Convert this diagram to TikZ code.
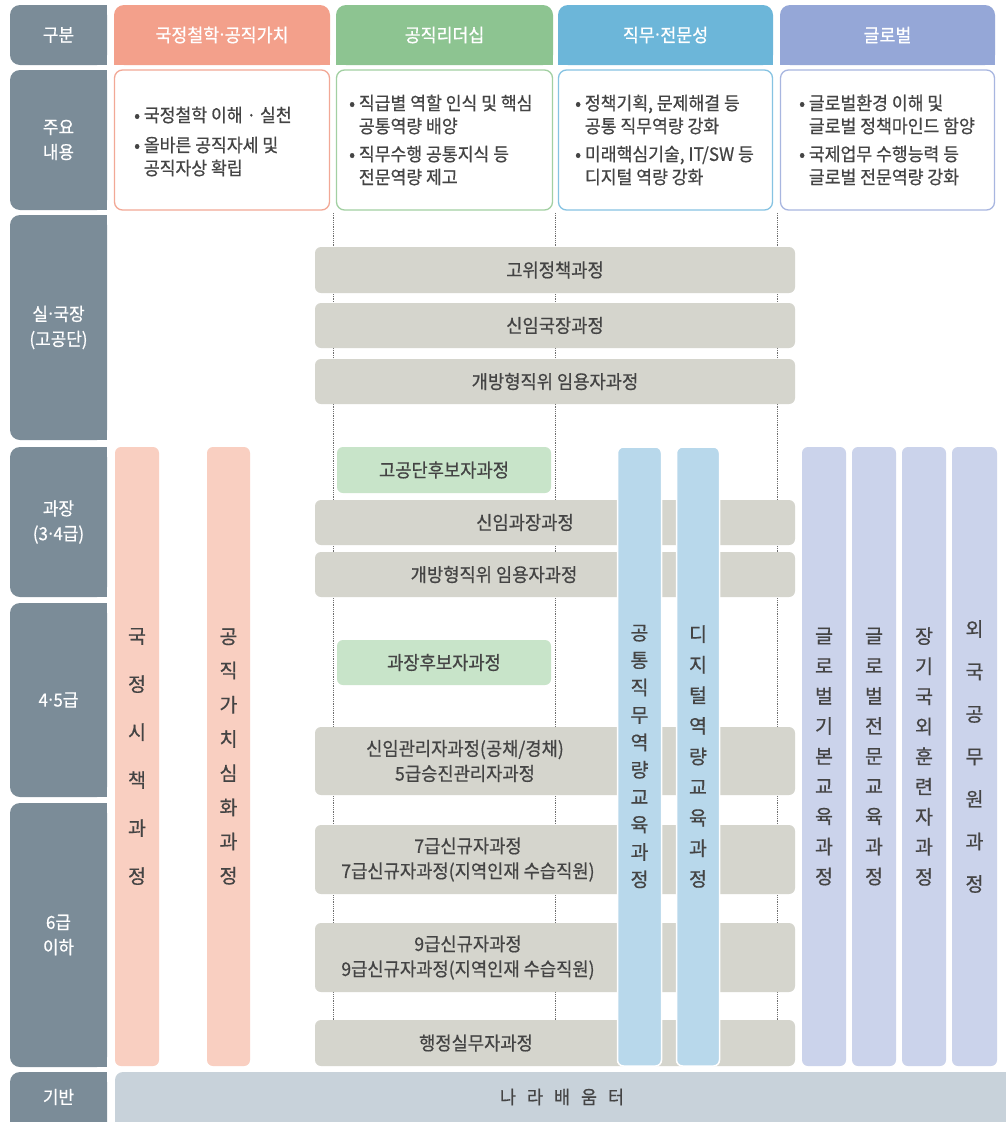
\documentclass[tikz,border=0pt]{standalone}
\usepackage{fontspec}
\newfontfamily\kr[FakeStretch=0.94,FakeBold=0.6]{Noto Sans CJK KR}
\newfontfamily\krv[FakeBold=0.6]{Noto Sans CJK KR}
\newfontfamily\dotf{Noto Sans}
\newcommand\mdt{{\dotf\kern0.02em·\kern0.02em}}
\definecolor{slate}{HTML}{7B8C98}
\definecolor{salH}{HTML}{F3A08B}
\definecolor{grnH}{HTML}{8DC491}
\definecolor{bluH}{HTML}{6CB6D9}
\definecolor{purH}{HTML}{95A7D7}
\definecolor{salB}{HTML}{F2A896}
\definecolor{grnB}{HTML}{A2D0A2}
\definecolor{bluB}{HTML}{86C3E2}
\definecolor{purB}{HTML}{A8B6E0}
\definecolor{grayBar}{HTML}{D5D5CD}
\definecolor{grnL}{HTML}{C8E4C9}
\definecolor{salL}{HTML}{F9CFC1}
\definecolor{bluL}{HTML}{B8D8EB}
\definecolor{purL}{HTML}{CBD3EB}
\definecolor{baseBar}{HTML}{C8D2DA}
\definecolor{txtc}{HTML}{444444}
\definecolor{guidec}{HTML}{6E6E6E}
\begin{document}
\begin{tikzpicture}[x=1pt,y=-1pt,
  lab/.style={fill=slate, rounded corners=10pt, text=white, font=\kr\fontsize{18}{25}\selectfont, align=center, minimum width=97pt, inner sep=0pt},
  hdr/.style={rounded corners=10pt, text=white, font=\kr\fontsize{18.4}{22}\selectfont, minimum height=60pt, inner sep=0pt},
  cbox/.style={line width=1.3pt, rounded corners=8pt, fill=white, minimum height=140pt, inner sep=0pt},
  ctxt/.style={text=txtc, font=\kr\fontsize{18.3}{23}\selectfont, align=left, inner sep=0pt, anchor=west},
  bar/.style={fill=grayBar, rounded corners=6pt, minimum width=480pt, inner sep=0pt},
  btxt/.style={text=txtc, font=\kr\fontsize{18.8}{25}\selectfont, align=center, inner sep=0pt},
  gbar/.style={fill=grnL, rounded corners=6pt, minimum width=214pt, inner sep=0pt, text=txtc, font=\kr\fontsize{18.8}{25}\selectfont},
  vbar/.style={rounded corners=6pt, inner sep=0pt, minimum height=619pt, text=txtc, align=center},
  guide/.style={draw=guidec, line width=0.9pt, dash pattern=on 1pt off 0.8pt}
]
\useasboundingbox[fill=white] (0,0) rectangle (1005,1122);

% ---------- left label column ----------
\fill[slate] (95,5) rectangle (107,65);
\node[lab, minimum height=60pt] (l0) at (58.5,35) {구분};
\fill[slate] (95,70) rectangle (107,210);
\node[lab, minimum height=140pt] (l1) at (58.5,140) {주요\\내용};
\fill[slate] (95,215) rectangle (107,440);
\node[lab, minimum height=225pt] (l2) at (58.5,327.5) {실\mdt 국장\\(고공단)};
\fill[slate] (95,447) rectangle (107,597);
\node[lab, minimum height=150pt] (l3) at (58.5,522) {과장\\(3\mdt 4급)};
\fill[slate] (95,603) rectangle (107,797);
\node[lab, minimum height=194pt] (l4) at (58.5,700) {4\mdt 5급};
\fill[slate] (95,803) rectangle (107,1067);
\node[lab, minimum height=264pt] (l5) at (58.5,935) {6급\\이하};
\fill[slate] (95,1072) rectangle (107,1122);
\node[lab, minimum height=60pt] (l6) at (58.5,1102) {};
\node[text=white, font=\kr\fontsize{18}{25}\selectfont] (l6t) at (58.5,1097) {기반};

% ---------- headers ----------
\fill[salH] (114,50) rectangle (330,65);
\node[hdr, fill=salH, minimum width=216pt] (h1) at (222,35) {국정철학\mdt 공직가치};
\fill[grnH] (336,50) rectangle (553,65);
\node[hdr, fill=grnH, minimum width=217pt] (h2) at (444.5,35) {공직리더십};
\fill[bluH] (558,50) rectangle (773,65);
\node[hdr, fill=bluH, minimum width=215pt] (h3) at (665.5,35) {직무\mdt 전문성};
\fill[purH] (780,50) rectangle (995,65);
\node[hdr, fill=purH, minimum width=215pt] (h4) at (887.5,35) {글로벌};

% ---------- content boxes ----------
\node[cbox, draw=salB, minimum width=215pt] (c1) at (222,140) {};
\node[cbox, draw=grnB, minimum width=216pt] (c2) at (444.5,140) {};
\node[cbox, draw=bluB, minimum width=214pt] (c3) at (665.5,140) {};
\node[cbox, draw=purB, minimum width=214pt] (c4) at (887.5,140) {};
\node[ctxt] (c1t) at (134,141.5) {• 국정철학 이해 · 실천\\[7pt]• 올바른 공직자세 및\\\hphantom{• }공직자상 확립};
\node[ctxt] (c2t) at (349,140) {• 직급별 역할 인식 및 핵심\\\hphantom{• }공통역량 배양\\[5pt]• 직무수행 공통지식 등\\\hphantom{• }전문역량 제고};
\node[ctxt] (c3t) at (575,140) {• 정책기획, 문제해결 등\\\hphantom{• }공통 직무역량 강화\\[5pt]• 미래핵심기술, IT/SW 등\\\hphantom{• }디지털 역량 강화};
\node[ctxt] (c4t) at (799,140) {• 글로벌환경 이해 및\\\hphantom{• }글로벌 정책마인드 함양\\[5pt]• 국제업무 수행능력 등\\\hphantom{• }글로벌 전문역량 강화};

% ---------- guide lines ----------
\coordinate (d1t) at (333,213); \coordinate (d1b) at (333,1020);
\coordinate (d2t) at (555,213); \coordinate (d2b) at (555,1020);
\coordinate (d3t) at (777,213); \coordinate (d3b) at (777,1020);
\draw[guide] (d1t) -- (d1b);
\draw[guide] (d2t) -- (d2b);
\draw[guide] (d3t) -- (d3b);

% ---------- gray course bars ----------
\node[bar, minimum height=46pt, label={[btxt]center:고위정책과정}] (g1) at (555,270) {};
\node[bar, minimum height=45pt, label={[btxt]center:신임국장과정}] (g2) at (555,325.5) {};
\node[bar, minimum height=45pt, label={[btxt]center:개방형직위 임용자과정}] (g3) at (555,381.5) {};
\node[bar, minimum height=45pt, label={[btxt,xshift=-30pt]center:신임과장과정}] (g4) at (555,522.5) {};
\node[bar, minimum height=45pt, label={[btxt,xshift=-61pt]center:개방형직위 임용자과정}] (g5) at (555,574.5) {};
\node[bar, minimum height=68pt, label={[btxt,xshift=-90pt]center:신임관리자과정(공채/경채)\\5급승진관리자과정}] (g6) at (555,761) {};
\node[bar, minimum height=69pt, label={[btxt,xshift=-87pt]center:7급신규자과정\\7급신규자과정(지역인재 수습직원)}] (g7) at (555,859.5) {};
\node[bar, minimum height=69pt, label={[btxt,xshift=-87pt]center:9급신규자과정\\9급신규자과정(지역인재 수습직원)}] (g8) at (555,957.5) {};
\node[bar, minimum height=46pt, label={[btxt,xshift=-79pt]center:행정실무자과정}] (g9) at (555,1043) {};

% ---------- green bars ----------
\node[gbar, minimum height=46pt] (gr1) at (444,470) {고공단후보자과정};
\node[gbar, minimum height=45pt] (gr2) at (444,662.5) {과장후보자과정};

% ---------- vertical bars ----------
\node[vbar, fill=salL, minimum width=44pt, font=\krv\fontsize{19.5}{48}\selectfont] (v1) at (137,756.5) {국\\정\\시\\책\\과\\정};
\node[vbar, fill=salL, minimum width=43pt, font=\krv\fontsize{19.5}{34.2}\selectfont] (v2) at (228.5,756.5) {공\\직\\가\\치\\심\\화\\과\\정};
\node[vbar, fill=bluL, draw=white, line width=1.5pt, minimum width=44pt, font=\krv\fontsize{19.5}{27.4}\selectfont] (v3) at (639.5,756.5) {공\\통\\직\\무\\역\\량\\교\\육\\과\\정};
\node[vbar, fill=bluL, draw=white, line width=1.5pt, minimum width=43pt, font=\krv\fontsize{19.5}{30.6}\selectfont] (v4) at (698,756.5) {디\\지\\털\\역\\량\\교\\육\\과\\정};
\node[vbar, fill=purL, minimum width=44pt, font=\krv\fontsize{19.5}{30.1}\selectfont] (v5) at (824,756.5) {글\\로\\벌\\기\\본\\교\\육\\과\\정};
\node[vbar, fill=purL, minimum width=44pt, font=\krv\fontsize{19.5}{30.1}\selectfont] (v6) at (874,756.5) {글\\로\\벌\\전\\문\\교\\육\\과\\정};
\node[vbar, fill=purL, minimum width=44pt, font=\krv\fontsize{19.5}{30.1}\selectfont] (v7) at (924,756.5) {장\\기\\국\\외\\훈\\련\\자\\과\\정};
\node[vbar, fill=purL, minimum width=45pt, font=\krv\fontsize{19.5}{42.5}\selectfont] (v8) at (974.5,756.5) {외\\국\\공\\무\\원\\과\\정};

% ---------- base bar ----------
\node[fill=baseBar, rounded corners=8pt, minimum width=900pt, minimum height=60pt, inner sep=0pt] (base) at (565,1102) {};
\node[text=txtc, font=\kr\fontsize{18.5}{25}\selectfont] (baset) at (562,1097) {나\hspace{11pt}라\hspace{11pt}배\hspace{11pt}움\hspace{11pt}터};
\end{tikzpicture}
\end{document}
